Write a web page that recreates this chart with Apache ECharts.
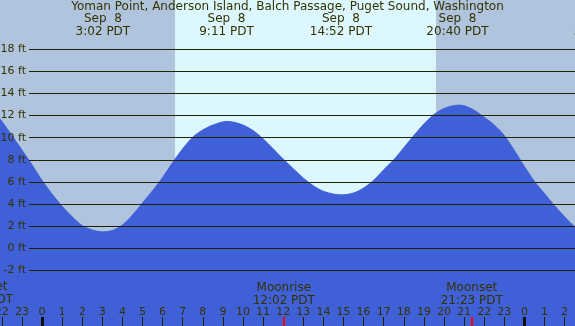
<!DOCTYPE html>
<html lang="en">
<head>
  <meta charset="UTF-8">
  <title>Tide chart</title>
  <script src="https://cdn.jsdelivr.net/npm/echarts@6/dist/echarts.min.js"></script>
  <style>
    html, body { margin: 0; padding: 0; }
    #main { width: 575px; height: 326px; }
  </style>
</head>
<body>
<div id="main"></div>
<script type="text/javascript">
  // hours from midnight Sep 8 (PDT) and tide height in feet
  var tideHours = [-2.5, -2, -1.5, -1, -0.5, 0, 0.5, 1, 1.5, 2, 2.5, 3.03, 3.5, 4, 4.5, 5, 5.5, 6, 6.5, 7,
                   7.5, 8, 8.5, 9.19, 9.5, 10, 10.5, 11, 11.5, 12, 12.5, 13, 13.5, 14, 14.5, 14.9,
                   15.5, 16, 16.5, 17, 17.5, 18, 18.5, 19, 19.5, 20, 20.7, 21, 21.5, 22, 22.5, 23,
                   23.5, 24, 24.5, 25, 25.5, 26, 26.5, 27];
  var tideFeet = [12.6, 11.5, 10.2, 8.9, 7.55, 6.15, 4.9, 3.8, 2.85, 2.05, 1.65, 1.48, 1.6, 2.1, 3.0,
                  4.1, 5.2, 6.4, 7.75, 9.0, 10.05, 10.7, 11.15, 11.48, 11.42, 11.15, 10.65, 9.9, 9.0,
                  8.07, 7.2, 6.35, 5.65, 5.15, 4.9, 4.83, 5.0, 5.45, 6.15, 7.1, 8.0, 9.1, 10.2,
                  11.25, 12.1, 12.65, 12.95, 12.9, 12.5, 11.85, 11.15, 10.2, 8.85, 7.4, 6.05, 4.95,
                  3.85, 2.85, 1.95, 1.4];

  // high / low tide times shown on top
  var extremeHours = [3.03, 9.18, 14.87, 20.67];
  var extremeLabels = ['Sep  8\n3:02 PDT', 'Sep  8\n9:11 PDT', 'Sep  8\n14:52 PDT', 'Sep  8\n20:40 PDT'];

  // moon events
  var moonHours = [12.03, 21.38];
  var moonLabels = ['Moonrise\n12:02 PDT', 'Moonset\n21:23 PDT'];

  // sun
  var sunrise = 6.62;
  var sunset = 19.6;

  var hourTicks = [];
  for (var h = -2; h <= 26; h++) hourTicks.push(h);
  var midnightTicks = [0, 24];

  var textColor = '#333300';
  var font = 'DejaVu Sans';
  var xMin = -2.0896, xMax = 26.517;

  var tideData = tideHours.map(function (t, i) { return [t, tideFeet[i]]; });

  var myChart = echarts.init(document.getElementById('main'));

  var option = {
    animation: false,
    backgroundColor: '#b0c4de',
    textStyle: { fontFamily: font },
    title: {
      text: 'Yoman Point, Anderson Island, Balch Passage, Puget Sound, Washington',
      left: 'center',
      top: 1,
      padding: 0,
      textStyle: { fontSize: 12, fontWeight: 'normal', color: textColor, fontFamily: font }
    },
    grid: [
      { left: 29, right: 0, top: 49.3, bottom: 55.7, containLabel: false, outerBoundsMode: 'none' },
      { left: 0, right: 0, top: 0, bottom: 0, containLabel: false, outerBoundsMode: 'none' }
    ],
    xAxis: [
      { gridIndex: 0, type: 'value', show: false, min: 0, max: 1 },
      { // hour labels + ticks
        gridIndex: 1, type: 'value', position: 'bottom', min: xMin, max: xMax, z: 5,
        axisLine: { show: false, onZero: false }, splitLine: { show: false },
        axisTick: { show: true, inside: true, length: 9, customValues: hourTicks,
          lineStyle: { color: '#222200', width: 1 } },
        axisLabel: { show: true, inside: true, margin: 8, customValues: hourTicks,
          hideOverlap: false, showMinLabel: true, showMaxLabel: true,
          color: textColor, fontSize: 11, fontFamily: font,
          formatter: function (v) { return String(((Math.round(v) % 24) + 24) % 24); } }
      },
      { // midnight ticks
        gridIndex: 1, type: 'value', position: 'bottom', min: xMin, max: xMax, z: 5,
        axisLine: { show: false, onZero: false }, splitLine: { show: false }, axisLabel: { show: false },
        axisTick: { show: true, inside: true, length: 9, customValues: midnightTicks,
          lineStyle: { color: '#111100', width: 3 } }
      },
      { // moon ticks + labels
        gridIndex: 1, type: 'value', position: 'bottom', min: xMin, max: xMax, z: 5,
        axisLine: { show: false, onZero: false }, splitLine: { show: false },
        axisTick: { show: true, inside: true, length: 9, customValues: moonHours,
          lineStyle: { color: '#ff0000', width: 2 } },
        axisLabel: { show: true, inside: true, margin: 19, customValues: moonHours,
          color: textColor, fontSize: 12, lineHeight: 13, fontFamily: font,
          formatter: function (v) {
            var i = moonHours.indexOf(v);
            return i >= 0 ? moonLabels[i] : '';
          } }
      },
      { // extreme labels on top
        gridIndex: 1, type: 'value', position: 'top', min: xMin, max: xMax, z: 5,
        axisLine: { show: false, onZero: false }, splitLine: { show: false }, axisTick: { show: false },
        axisLabel: { show: true, inside: true, margin: 13, customValues: extremeHours,
          color: textColor, fontSize: 12, lineHeight: 12.5, fontFamily: font,
          formatter: function (v) {
            var i = extremeHours.indexOf(v);
            return i >= 0 ? extremeLabels[i] : '';
          } }
      }
    ],
    yAxis: [
      {
        gridIndex: 0, type: 'value', min: -2, max: 18, interval: 2, z: 5,
        axisLine: { show: false, onZero: false }, axisTick: { show: false },
        splitLine: { show: true, lineStyle: { color: '#222200', width: 1 } },
        axisLabel: { margin: 3, color: textColor, fontSize: 11, fontFamily: font,
          formatter: function (v) { return v + ' ft'; } }
      },
      { gridIndex: 1, type: 'value', show: false, min: -7.04, max: 22.47 }
    ],
    graphic: [
      { type: 'text', x: -18, y: 280.5, z: 10, style: { text: 'Moonset\n20:51 PDT', align: 'center',
        fill: textColor, font: '12px "DejaVu Sans"', lineHeight: 13 } },
      { type: 'text', x: 601, y: 13, z: 10, style: { text: 'Sep  9\n3:48 PDT', align: 'center',
        fill: textColor, font: '12px "DejaVu Sans"', lineHeight: 12.5 } }
    ],
    series: [
      {
        type: 'line', xAxisIndex: 1, yAxisIndex: 1, z: 1, silent: true,
        data: tideData, showSymbol: false, lineStyle: { opacity: 0 },
        markArea: {
          silent: true,
          itemStyle: { color: '#ddf7ff' },
          data: [[{ xAxis: sunrise }, { xAxis: sunset }]]
        }
      },
      {
        type: 'line', xAxisIndex: 1, yAxisIndex: 1, z: 2, silent: true,
        data: tideData, smooth: 0.3, showSymbol: false,
        lineStyle: { color: '#4060d8', width: 1 },
        areaStyle: { color: '#4060d8', opacity: 1, origin: 'start' }
      }
    ]
  };

  myChart.setOption(option);
</script>
</body>
</html>
